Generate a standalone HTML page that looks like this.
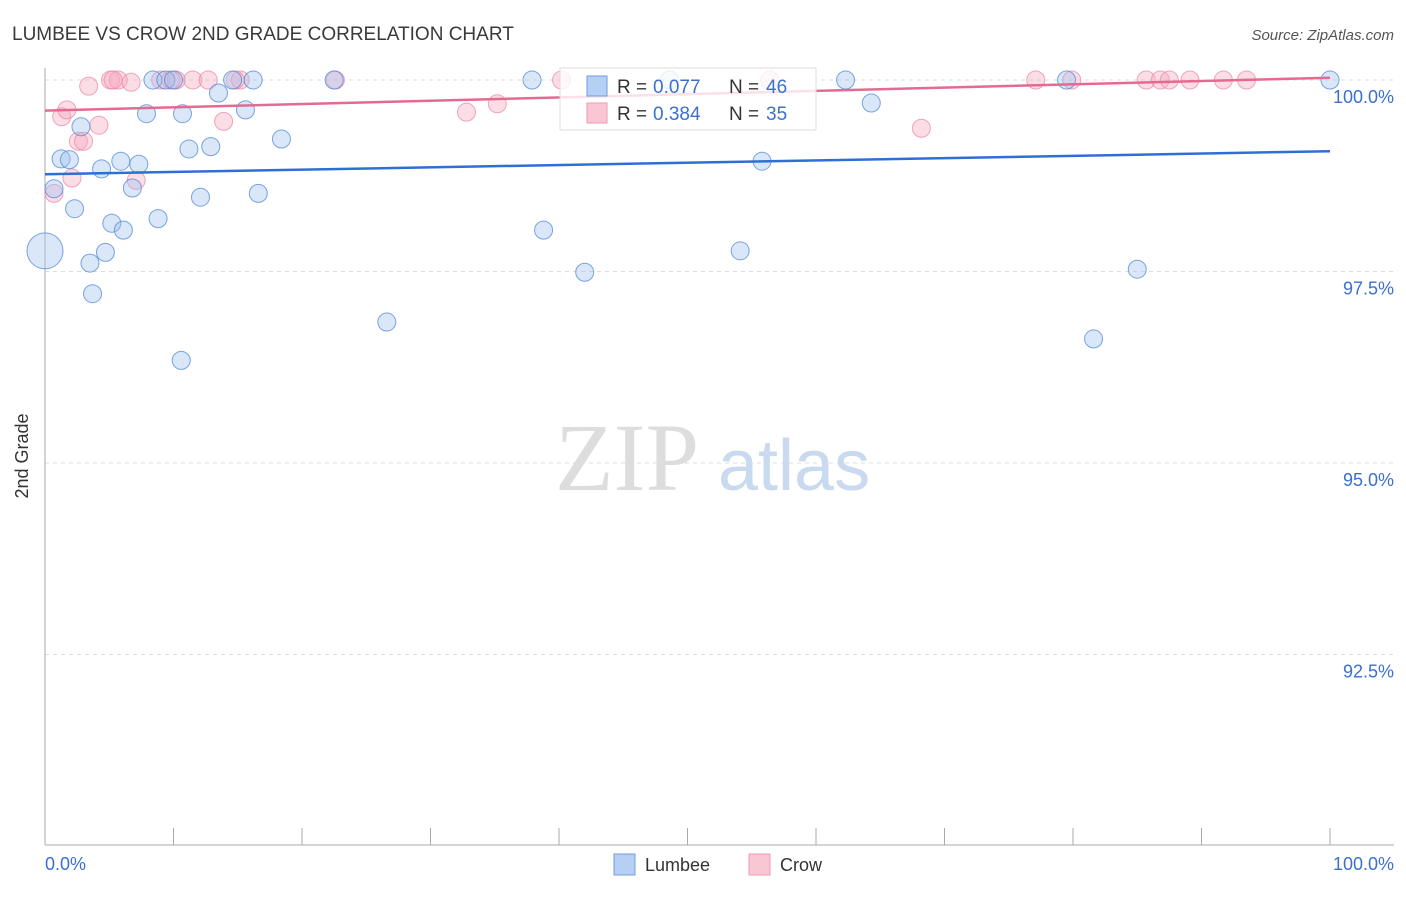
<!DOCTYPE html>
<html><head><meta charset="utf-8"><style>
body{margin:0;background:#fff;font-family:"Liberation Sans",sans-serif;}
</style></head><body>
<svg width="1406" height="892" xmlns="http://www.w3.org/2000/svg">
<text x="12" y="40" font-size="19" fill="#3a3a3a">LUMBEE VS CROW 2ND GRADE CORRELATION CHART</text>
<text x="1394" y="40" font-size="15" fill="#555" font-style="italic" text-anchor="end">Source: ZipAtlas.com</text>
<g id="grid"></g>
<text x="555" y="490" font-size="96" fill="#ddd" font-family="Liberation Serif,serif">ZIP</text>
<text x="718" y="490" font-size="72" fill="#c9d9ef">atlas</text>
<line x1="45" y1="68" x2="45" y2="845" stroke="#aaa"/>
<line x1="45" y1="845" x2="1394" y2="845" stroke="#aaa"/>
<g id="xticks"></g>
<text x="28" y="456" font-size="18" fill="#333" transform="rotate(-90 28 456)" text-anchor="middle">2nd Grade</text>
<text x="45" y="870" font-size="18" fill="#3a70d0">0.0%</text>
<text x="1394" y="870" font-size="18" fill="#3a70d0" text-anchor="end">100.0%</text>
<g id="pts"></g>
<g id="trend"></g>
<g>
<rect x="560" y="68" width="256" height="62" fill="rgba(255,255,255,0.8)" stroke="#ddd"/>
<rect x="587" y="76" width="20" height="20" fill="#b5cff5" stroke="#6f9ee0"/>
<text x="617" y="93" font-size="19" fill="#333">R =</text><text x="653" y="93" font-size="19" fill="#3a70d0">0.077</text>
<text x="729" y="93" font-size="19" fill="#333">N =</text><text x="766" y="93" font-size="19" fill="#3a70d0">46</text>
<rect x="587" y="103" width="20" height="20" fill="#f9c6d4" stroke="#ee9ab4"/>
<text x="617" y="120" font-size="19" fill="#333">R =</text><text x="653" y="120" font-size="19" fill="#3a70d0">0.384</text>
<text x="729" y="120" font-size="19" fill="#333">N =</text><text x="766" y="120" font-size="19" fill="#3a70d0">35</text>
</g>
<g><rect x="614" y="854" width="21" height="21" fill="#b5cff5" stroke="#6f9ee0"/><text x="645" y="871" font-size="18" fill="#333">Lumbee</text></g>
<g><rect x="749" y="854" width="21" height="21" fill="#f9c6d4" stroke="#ee9ab4"/><text x="780" y="871" font-size="18" fill="#333">Crow</text></g>
</svg>
<script>
const yTicks=[100,97.5,95,92.5];
const yTickLabels=["100.0%","97.5%","95.0%","92.5%"];
const lumbeeX=[0,0.7,1.25,1.9,2.3,2.8,3.5,3.7,4.4,4.7,5.2,5.9,6.1,6.8,7.3,7.9,8.4,8.8,9.4,10.0,10.6,10.7,11.2,12.1,12.9,13.5,14.6,15.6,16.2,16.6,18.4,22.5,26.6,37.9,38.8,42.0,48.6,54.1,55.8,62.3,64.3,79.5,81.6,85.0,100];
const lumbeeY=[97.77,98.58,98.97,98.96,98.32,99.39,97.61,97.21,98.84,97.75,98.13,98.94,98.04,98.59,98.90,99.56,100,98.19,100,100,96.34,99.56,99.10,98.47,99.13,99.83,100,99.61,100,98.52,99.23,100,96.84,100,98.04,97.49,100,97.77,98.94,100,99.70,100,96.62,97.53,100];
const crowX=[0.7,1.3,1.7,2.1,2.6,3.0,3.4,4.2,5.1,5.7,6.7,7.1,9.0,10.2,11.5,12.7,13.9,15.2,22.6,32.8,35.2,40.2,56.4,68.2,77.1,79.9,85.7,86.8,87.5,89.1,91.7,93.5,14.8,9.8,5.3];
const crowY=[98.52,99.52,99.61,98.72,99.20,99.20,99.92,99.41,100,100,99.97,98.69,100,100,100,100,99.46,100,100,99.58,99.69,100,100,99.37,100,100,100,100,100,100,100,100,100,100,100];
const lumbeeTrend=[98.77,99.07];
const crowTrend=[99.60,100.03];
const NS="http://www.w3.org/2000/svg";
const sx=v=>45+v/100*1285;
const sy=v=>80+(100-v)/2.5*191.5;
function mk(t,a,p){const e=document.createElementNS(NS,t);for(const k in a)e.setAttribute(k,a[k]);p.appendChild(e);return e;}
const grid=document.getElementById('grid');
yTicks.forEach((t,i)=>{
 const l=mk('line',{x1:45,x2:1394,y1:sy(t),y2:sy(t),stroke:'#ddd','stroke-dasharray':'4,4'},grid);
 
 
 const tx=mk('text',{x:1394,y:sy(t)+23,'font-size':18,fill:'#3a70d0','text-anchor':'end'},grid);
 tx.textContent=yTickLabels[i];
 
 
});
const xt=document.getElementById('xticks');
for(let i=0;i<=10;i++){
 const l=mk('line',{x1:sx(i*10),x2:sx(i*10),y1:828,y2:845,stroke:'#aaa'},xt);
 
 
}
const pts=document.getElementById('pts');
crowX.forEach((x,i)=>{
 const c=mk('circle',{cx:sx(x),cy:sy(crowY[i]),r:9,fill:'rgba(246,170,192,0.4)',stroke:'rgba(236,130,160,0.7)'},pts);
 
 
});
lumbeeX.forEach((x,i)=>{
 const c=mk('circle',{cx:sx(x),cy:sy(lumbeeY[i]),r:i==0?18:9,fill:'rgba(160,195,240,0.4)',stroke:'rgba(80,135,215,0.75)'},pts);
 
 
});
const tr=document.getElementById('trend');
const a=mk('line',{x1:sx(0),x2:sx(100),y1:sy(lumbeeTrend[0]),y2:sy(lumbeeTrend[1]),stroke:'#2e6fd6','stroke-width':2.5},tr);


const b=mk('line',{x1:sx(0),x2:sx(100),y1:sy(crowTrend[0]),y2:sy(crowTrend[1]),stroke:'#e56a92','stroke-width':2.5},tr);


</script>
</body></html>
